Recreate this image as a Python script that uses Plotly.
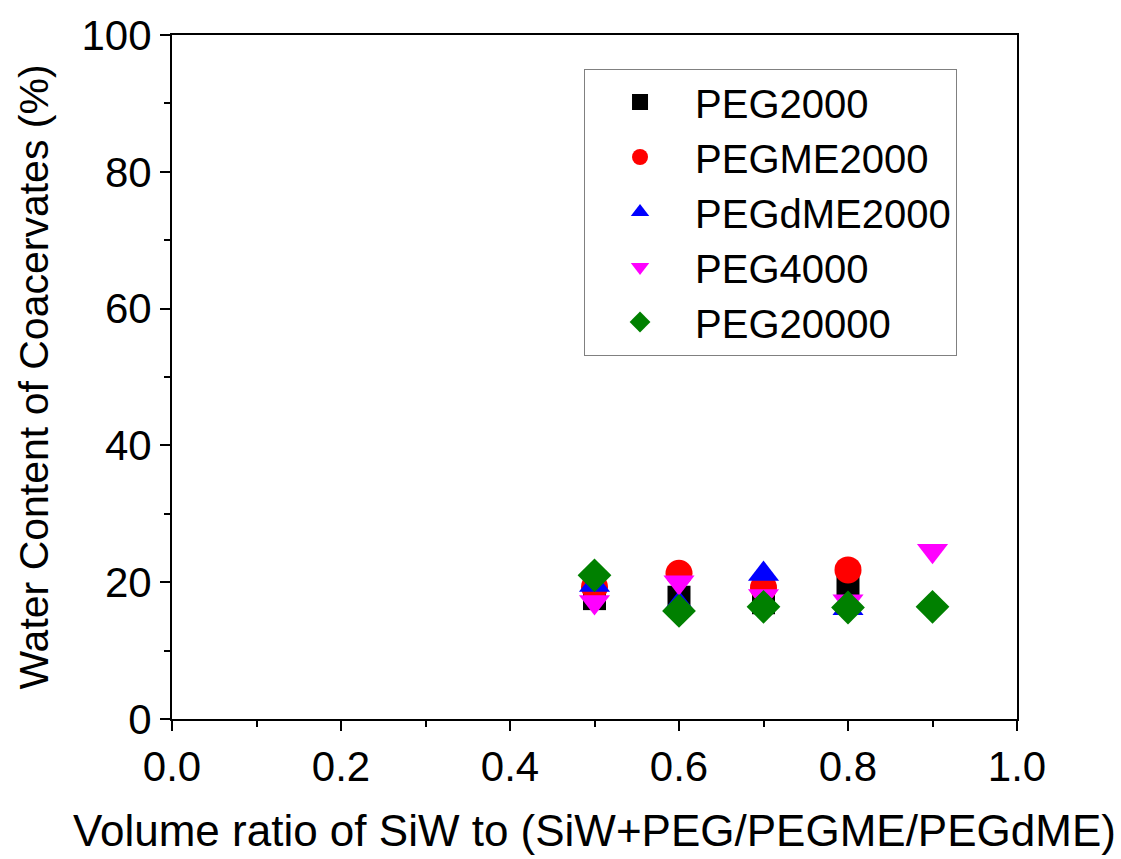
import plotly.graph_objects as go

x_vals = [0.5, 0.6, 0.7, 0.8]
x_pegdme = [0.5, 0.6, 0.7, 0.8]
x_peg4000 = [0.5, 0.6, 0.7, 0.8, 0.9]
x_peg20000 = [0.5, 0.6, 0.7, 0.8, 0.9]

peg2000 = [17.6, 17.8, 17.0, 19.6]
pegme2000 = [19.3, 21.3, 19.2, 21.8]
pegdme2000 = [19.6, 16.8, 21.2, 16.2]
peg4000 = [17.1, 20.0, 18.0, 17.2, 24.6]
peg20000 = [21.0, 15.8, 16.4, 16.3, 16.4]

series = [
    ("PEG2000", x_vals, peg2000, "square", "black", 23),
    ("PEGME2000", x_vals, pegme2000, "circle", "red", 27),
    ("PEGdME2000", x_pegdme, pegdme2000, "triangle-up", "blue", 27),
    ("PEG4000", x_peg4000, peg4000, "triangle-down", "magenta", 27),
    ("PEG20000", x_peg20000, peg20000, "diamond", "green", 26),
]

fig = go.Figure()
for i, (name, xs, ys, sym, col, sz) in enumerate(series):
    fig.add_trace(go.Scatter(
        x=xs, y=ys, mode="markers", name=name, legendgroup=f"g{i}",
        marker=dict(symbol=sym, color=col, size=sz, line=dict(width=0)),
    ))

font = "Liberation Sans, Arial, sans-serif"
axis_common = dict(
    showline=True, linecolor="black", linewidth=2, mirror=True,
    ticks="outside", ticklen=10, tickwidth=2, tickcolor="black",
    showgrid=False, zeroline=False,
    tickfont=dict(family=font, size=42, color="black"),
)
fig.update_xaxes(
    range=[0, 1], tick0=0, dtick=0.2, tickformat=".1f",
    minor=dict(ticks="outside", dtick=0.1, ticklen=6, tickwidth=2, tickcolor="black"),
    title=dict(text="Volume ratio of SiW to (SiW+PEG/PEGME/PEGdME)",
               font=dict(family=font, size=44, color="black"), standoff=26),
    **axis_common,
)
fig.update_yaxes(
    range=[0, 100], tick0=0, dtick=20,
    minor=dict(ticks="outside", dtick=10, ticklen=6, tickwidth=2, tickcolor="black"),
    title=dict(text="Water Content of Coacervates (%)",
               font=dict(family=font, size=41, color="black"), standoff=20),
    **axis_common,
)
fig.update_layout(
    width=1121, height=859,
    margin=dict(l=172, r=104, t=33, b=138),
    paper_bgcolor="white", plot_bgcolor="white",
    showlegend=True,
    legend=dict(
        x=0.4876, y=0.951, xanchor="left", yanchor="top",
        bordercolor="#808080", borderwidth=1, bgcolor="white",
        font=dict(family=font, size=40, color="black"),
        tracegroupgap=0, itemsizing="trace", itemwidth=100,
    ),
)
fig.write_html(
    "out.html",
    config={"displayModeBar": False},
    post_script="document.body.style.margin='0';document.body.style.overflow='hidden';",
)
